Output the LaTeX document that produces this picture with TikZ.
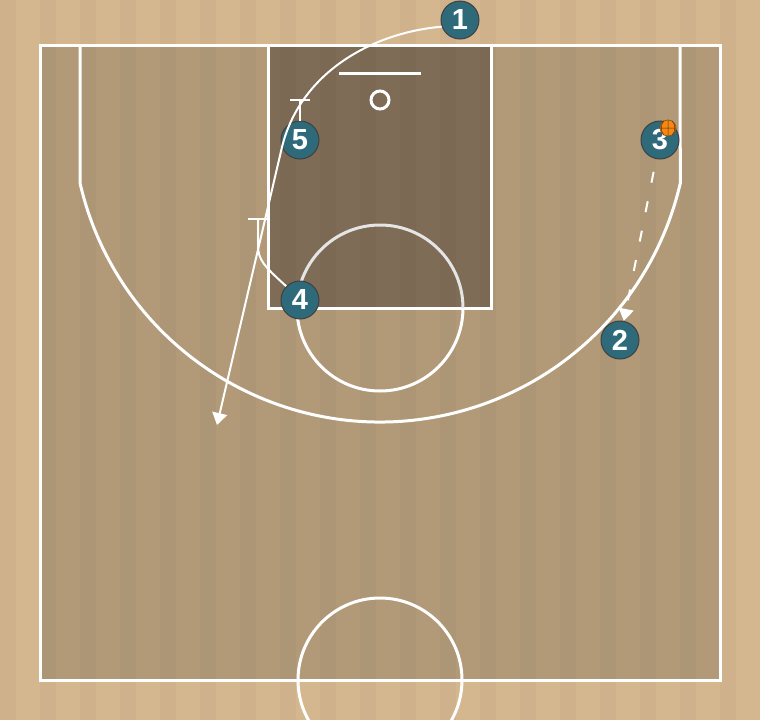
\documentclass[tikz,border=0pt]{standalone}
\usepackage{fontspec}
\newfontfamily\numfont{Liberation Sans}
\usetikzlibrary{arrows.meta}
\definecolor{floorout}{RGB}{213,183,143}
\definecolor{floorin}{RGB}{178,154,120}
\definecolor{lane}{RGB}{126,108,86}
\definecolor{teal}{RGB}{47,106,123}
\definecolor{ballcol}{RGB}{245,135,20}
\tikzset{
    player/.style={circle, fill=teal, draw=black!75, line width=1pt,
        minimum size=38pt, inner sep=0pt, text=white,
        font=\numfont\bfseries\fontsize{29}{29}\selectfont},
    courtline/.style={draw=white, line width=3pt},
    move/.style={white, line width=2pt},
    passline/.style={white, line width=2pt, dash pattern=on 11pt off 19pt},
    tip/.style={-{Triangle[width=15pt,length=12pt]}}
}
\begin{document}
\begin{tikzpicture}[x=1pt, y=-1pt]
    \useasboundingbox (0,0) rectangle (760,720);
    \clip (0,0) rectangle (760,720);
    % floor
    \fill[floorout] (0,0) rectangle (760,720);
    \fill[floorin] (40,45) rectangle (720,680);
    \fill[lane] (268,45) rectangle (491,308);
    \foreach \x in {0,40,...,740}
        \fill[black, opacity=0.022] (\x,0) rectangle ++(16,720);
    % court
    \draw[courtline] (40,45) rectangle (720,680);
    \draw[courtline] (268,45) rectangle (491,308);
    \draw[courtline] (80,45) -- (80,183)
        arc[start angle=167.05, end angle=12.95, radius=308] -- (680,45);
    \draw[draw=white!80!gray, line width=3pt] (297,308) arc[start angle=180, end angle=360, radius=83];
    \draw[courtline] (297,308) arc[start angle=180, end angle=0, radius=83];
    \draw[courtline] (380,680) circle[radius=82];
    \draw[courtline] (339,73) -- (421,73);
    \draw[courtline] (380,100) circle[radius=9];

    \node[player] (p1) at (460,20) {1};
    \node[player] (p2) at (620,340) {2};
    \node[player] (p3) at (660,140) {3};
    \node[player] (p4) at (300,300) {4};
    \node[player] (p5) at (300,140) {5};
    \node[circle, fill=ballcol, draw=ballcol!60!black, line width=0.6pt,
        minimum size=16pt, inner sep=0pt] (ball) at (668,128) {};
    \draw[ballcol!40!black, line width=0.5pt] (ball.north) -- (ball.south)
        (ball.west) -- (ball.east)
        (ball.120) to[bend right=40] (ball.240)
        (ball.60) to[bend left=40] (ball.300);

    \coordinate (cut) at (217,425);
    \coordinate (scr5) at (300,100);
    \coordinate (scr4) at (258,219);

    % cut of 1
    \draw[move, tip] (p1.200) .. controls (370,33) and (300,74) .. (282,147) -- (cut);
    % screens
    \draw[move] (p5) -- (scr5);
    \draw[move] ([xshift=-10pt]scr5) -- ([xshift=10pt]scr5);
    \draw[move] (p4.135) .. controls (264,266) and (258,260) .. (258,245) -- (scr4);
    \draw[move] ([xshift=-10pt]scr4) -- ([xshift=10pt]scr4);
    % pass
    \draw[passline, tip, shorten <=13pt] (p3) -- (p2);
\end{tikzpicture}
\end{document}
